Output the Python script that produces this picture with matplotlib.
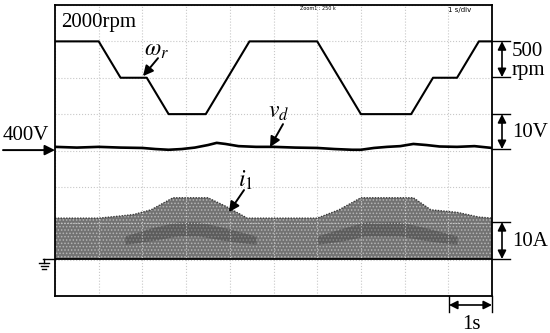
import matplotlib
matplotlib.use('Agg')
import matplotlib.pyplot as plt
import numpy as np

plt.rcParams['font.family'] = ['Liberation Serif', 'DejaVu Serif']
plt.rcParams['mathtext.fontset'] = 'stix'
plt.rcParams['hatch.linewidth'] = 0.7

# speed reference omega_r (rpm)
speed_t = [0, 1.0, 1.5, 2.1, 2.6, 3.45, 4.45, 6.0, 7.0, 8.15, 8.65, 9.2, 9.7, 10]
speed_rpm = [2000, 2000, 1500, 1500, 1000, 1000, 2000, 2000, 1000, 1000, 1500, 1500, 2000, 2000]

# dc-link voltage v_d (V)
vd_t = [0, 0.5, 1, 1.5, 2, 2.3, 2.6, 2.9, 3.2, 3.5, 3.7, 3.9, 4.2, 4.6, 5, 5.5,
        6, 6.4, 6.8, 7.0, 7.3, 7.6, 7.9, 8.2, 8.5, 8.8, 9.2, 9.6, 10]
vd_volts = [400.3, 400.1, 400.3, 400.1, 400.0, 399.7, 399.5, 399.7, 400.1, 400.8,
            401.4, 401.1, 400.5, 400.3, 400.3, 400.1, 400.0, 399.7, 399.5, 399.5,
            400.0, 400.3, 400.5, 401.1, 400.8, 400.4, 400.3, 400.5, 400.0]

# phase current i_1 envelope (A)
i1_t = [0, 1.0, 1.5, 1.8, 2.2, 2.7, 3.5, 3.9, 4.4, 6.0, 6.5, 7.0, 8.2, 8.6, 9.2, 9.7, 10]
i1_amp = [11.2, 11.2, 11.8, 12.2, 13.5, 16.8, 16.8, 14.5, 11.2, 11.2, 13.5, 16.8, 16.8, 13.5, 12.8, 11.5, 11.2]

# darker dense band inside the current trace (A)
band_t = [1.6, 2.2, 2.8, 3.3, 3.9, 4.6, 6.0, 6.6, 7.1, 7.9, 8.5, 9.2]
band_top = [6.3, 8.5, 10.2, 10.2, 8.5, 6.3, 6.3, 8.5, 10.2, 10.2, 8.5, 6.3]
band_bot = [4.0, 5.0, 6.3, 6.3, 5.0, 4.0, 4.0, 5.0, 6.3, 6.3, 5.0, 4.0]

# screen positions of each channel (in divisions from bottom)
def speed_div(r):
    return 7 - (2000 - np.asarray(r)) / 500.0

def vd_div(v):
    return 4.07 + (np.asarray(v) - 400) / 10.0

def i1_div(a):
    return 1.02 + np.asarray(a) / 10.0

fig = plt.figure(figsize=(5.5, 3.33), dpi=100)
ax = fig.add_axes([55 / 550, 1 - 296 / 333, 437 / 550, 291 / 333])
ax.set_xlim(0, 10)
ax.set_ylim(0, 8)
ax.set_xticks(range(11))
ax.set_yticks(range(9))
ax.tick_params(length=0, labelbottom=False, labelleft=False)
ax.grid(color='#c8c8c8', linestyle=':', linewidth=0.8)
for s in ax.spines.values():
    s.set_linewidth(1.3)

# current trace
ax.fill_between(i1_t, i1_div(0), i1_div(i1_amp), facecolor='#727272',
                edgecolor='#b4b4b4', hatch='.....', linewidth=0)
ax.fill_between(band_t[:6], i1_div(band_bot[:6]), i1_div(band_top[:6]), color='#2a2a2a', alpha=0.3, linewidth=0)
ax.fill_between(band_t[6:], i1_div(band_bot[6:]), i1_div(band_top[6:]), color='#2a2a2a', alpha=0.3, linewidth=0)
ax.plot(i1_t, i1_div(i1_amp), color='#3a3a3a', linewidth=1.0, linestyle=(0, (1, 1)))
ax.axhline(i1_div(0), color='black', linewidth=1.3)

# voltage and speed
ax.plot(vd_t, vd_div(vd_volts), color='black', linewidth=1.9)
ax.plot(speed_t, speed_div(speed_rpm), color='black', linewidth=1.5)

# pixel -> data helpers for annotations
def px(x):
    return (x - 55) / 43.7

def py(y):
    return (296 - y) / 36.4

arrow = dict(arrowstyle='-|>,head_length=0.6,head_width=0.3', color='black', lw=1.4, shrinkA=0, shrinkB=0)
darrow = dict(arrowstyle='<|-|>,head_length=0.5,head_width=0.25', color='black', lw=1.2, shrinkA=0, shrinkB=0)

ax.text(px(61), py(22), '2000rpm', fontsize=15, va='center', ha='left')
ax.text(px(157), py(50), r'$\omega_r$', fontsize=17, va='center', ha='center')
ax.annotate('', xy=(px(143), py(76)), xytext=(px(158), py(58)), arrowprops=arrow)
ax.text(px(279), py(112), r'$v_d$', fontsize=17, va='center', ha='center')
ax.annotate('', xy=(px(270), py(147)), xytext=(px(283), py(124)), arrowprops=arrow)
ax.text(px(246), py(180), r'$i_1$', fontsize=17, va='center', ha='center')
ax.annotate('', xy=(px(229), py(212)), xytext=(px(244), py(190)), arrowprops=arrow)

ax.text(px(300), py(8), 'Zoom1 : 250 k', fontsize=3.5, family='DejaVu Sans', va='center')
ax.text(px(448), py(10), '1 s/div', fontsize=5, family='DejaVu Sans', va='center')

# left 400V marker
ax.text(px(3), py(135), '400V', fontsize=15, va='center', ha='left', clip_on=False)
ax.annotate('', xy=(px(55), py(150)), xytext=(px(3), py(150)), arrowprops=arrow, annotation_clip=False)

# ground symbol
ax.plot([px(43), px(55)], [py(259), py(259)], color='black', lw=1, clip_on=False)
ax.plot([px(44), px(44)], [py(259), py(263)], color='black', lw=1, clip_on=False)
for yy, w in [(263, 5), (266, 3.5), (269, 2)]:
    ax.plot([px(44 - w), px(44 + w)], [py(yy), py(yy)], color='black', lw=1, clip_on=False)

# right scale bars
for top, bot, lab, ly in [(41, 77, '500\nrpm', 61), (114, 149, '10V', 132), (222, 259, '10A', 241)]:
    ax.annotate('', xy=(px(502), py(top)), xytext=(px(502), py(bot)), arrowprops=darrow, annotation_clip=False)
    for yy in (top, bot):
        ax.plot([px(492), px(510)], [py(yy), py(yy)], color='black', lw=1, clip_on=False)
    ax.text(px(512), py(ly), lab, fontsize=15, va='center', ha='left', linespacing=1.0, clip_on=False)

# time scale bar
ax.annotate('', xy=(px(449), py(305)), xytext=(px(492), py(305)), arrowprops=darrow, annotation_clip=False)
for xx in (449, 492):
    ax.plot([px(xx), px(xx)], [py(296), py(312)], color='black', lw=1, clip_on=False)
ax.text(px(471), py(325), '1s', fontsize=15, va='center', ha='center', clip_on=False)

fig.savefig('out.png', dpi=100)
